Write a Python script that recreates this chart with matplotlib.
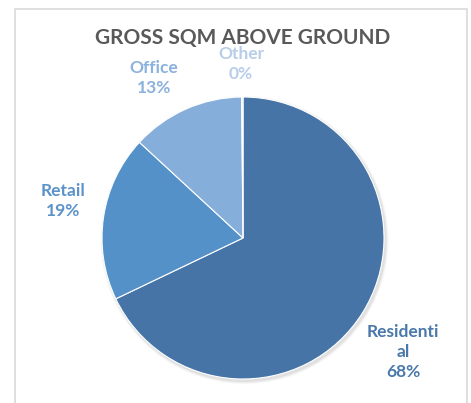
import matplotlib
matplotlib.use("Agg")
import matplotlib.pyplot as plt
from matplotlib.patches import Circle

plt.rcParams['font.family'] = ['Lato', 'DejaVu Sans']

# datos del grafico
categorias = ['Residential', 'Retail', 'Office', 'Other']
valores = [68, 19, 13, 0.15]
etiquetas = ['Residenti\nal\n68%', 'Retail\n19%', 'Office\n13%', 'Other\n0%']
colores = ['#4674A6', '#5591C9', '#86AEDB', '#B5CBE9']
colores_texto = ['#4A78AA', '#5B92C9', '#8AB2DD', '#B8CDEA']

W, H = 471, 403
fig = plt.figure(figsize=(W / 100, H / 100), dpi=100)
ax = fig.add_axes([0, 0, 1, 1])

cx, cy, r = 243, H - 238, 141

# sombra suave del pastel
for i, a in enumerate([0.05, 0.04, 0.03]):
    ax.add_patch(Circle((cx + 1.5, cy - 2.0), r + 1 + i, color='black', alpha=a, lw=0, zorder=0))

ax.pie(valores, colors=colores, startangle=90, counterclock=False,
       center=(cx, cy), radius=r,
       wedgeprops={'linewidth': 0.8, 'edgecolor': 'white'})

# titulo
ax.text(243, H - 38, 'GROSS SQM ABOVE GROUND', ha='center', va='center',
        fontsize=15, fontweight='bold', color='#595959')

# etiquetas de datos
pos = [(403, H - 352), (63, H - 201), (154, H - 78), (241, H - 64)]
for (x, y), t, c in zip(pos, etiquetas, colores_texto):
    ax.text(x, y, t, ha='center', va='center', fontsize=12.5, fontweight='bold',
            color=c, linespacing=1.3)

# marco del area del grafico
ax.plot([15, 15, 467, 467], [0, H - 9, H - 9, 0], color='#D9D9D9', lw=1.2)

ax.set_xlim(0, W)
ax.set_ylim(0, H)
ax.set_aspect('auto')
ax.axis('off')

fig.savefig('out.png', dpi=100)
